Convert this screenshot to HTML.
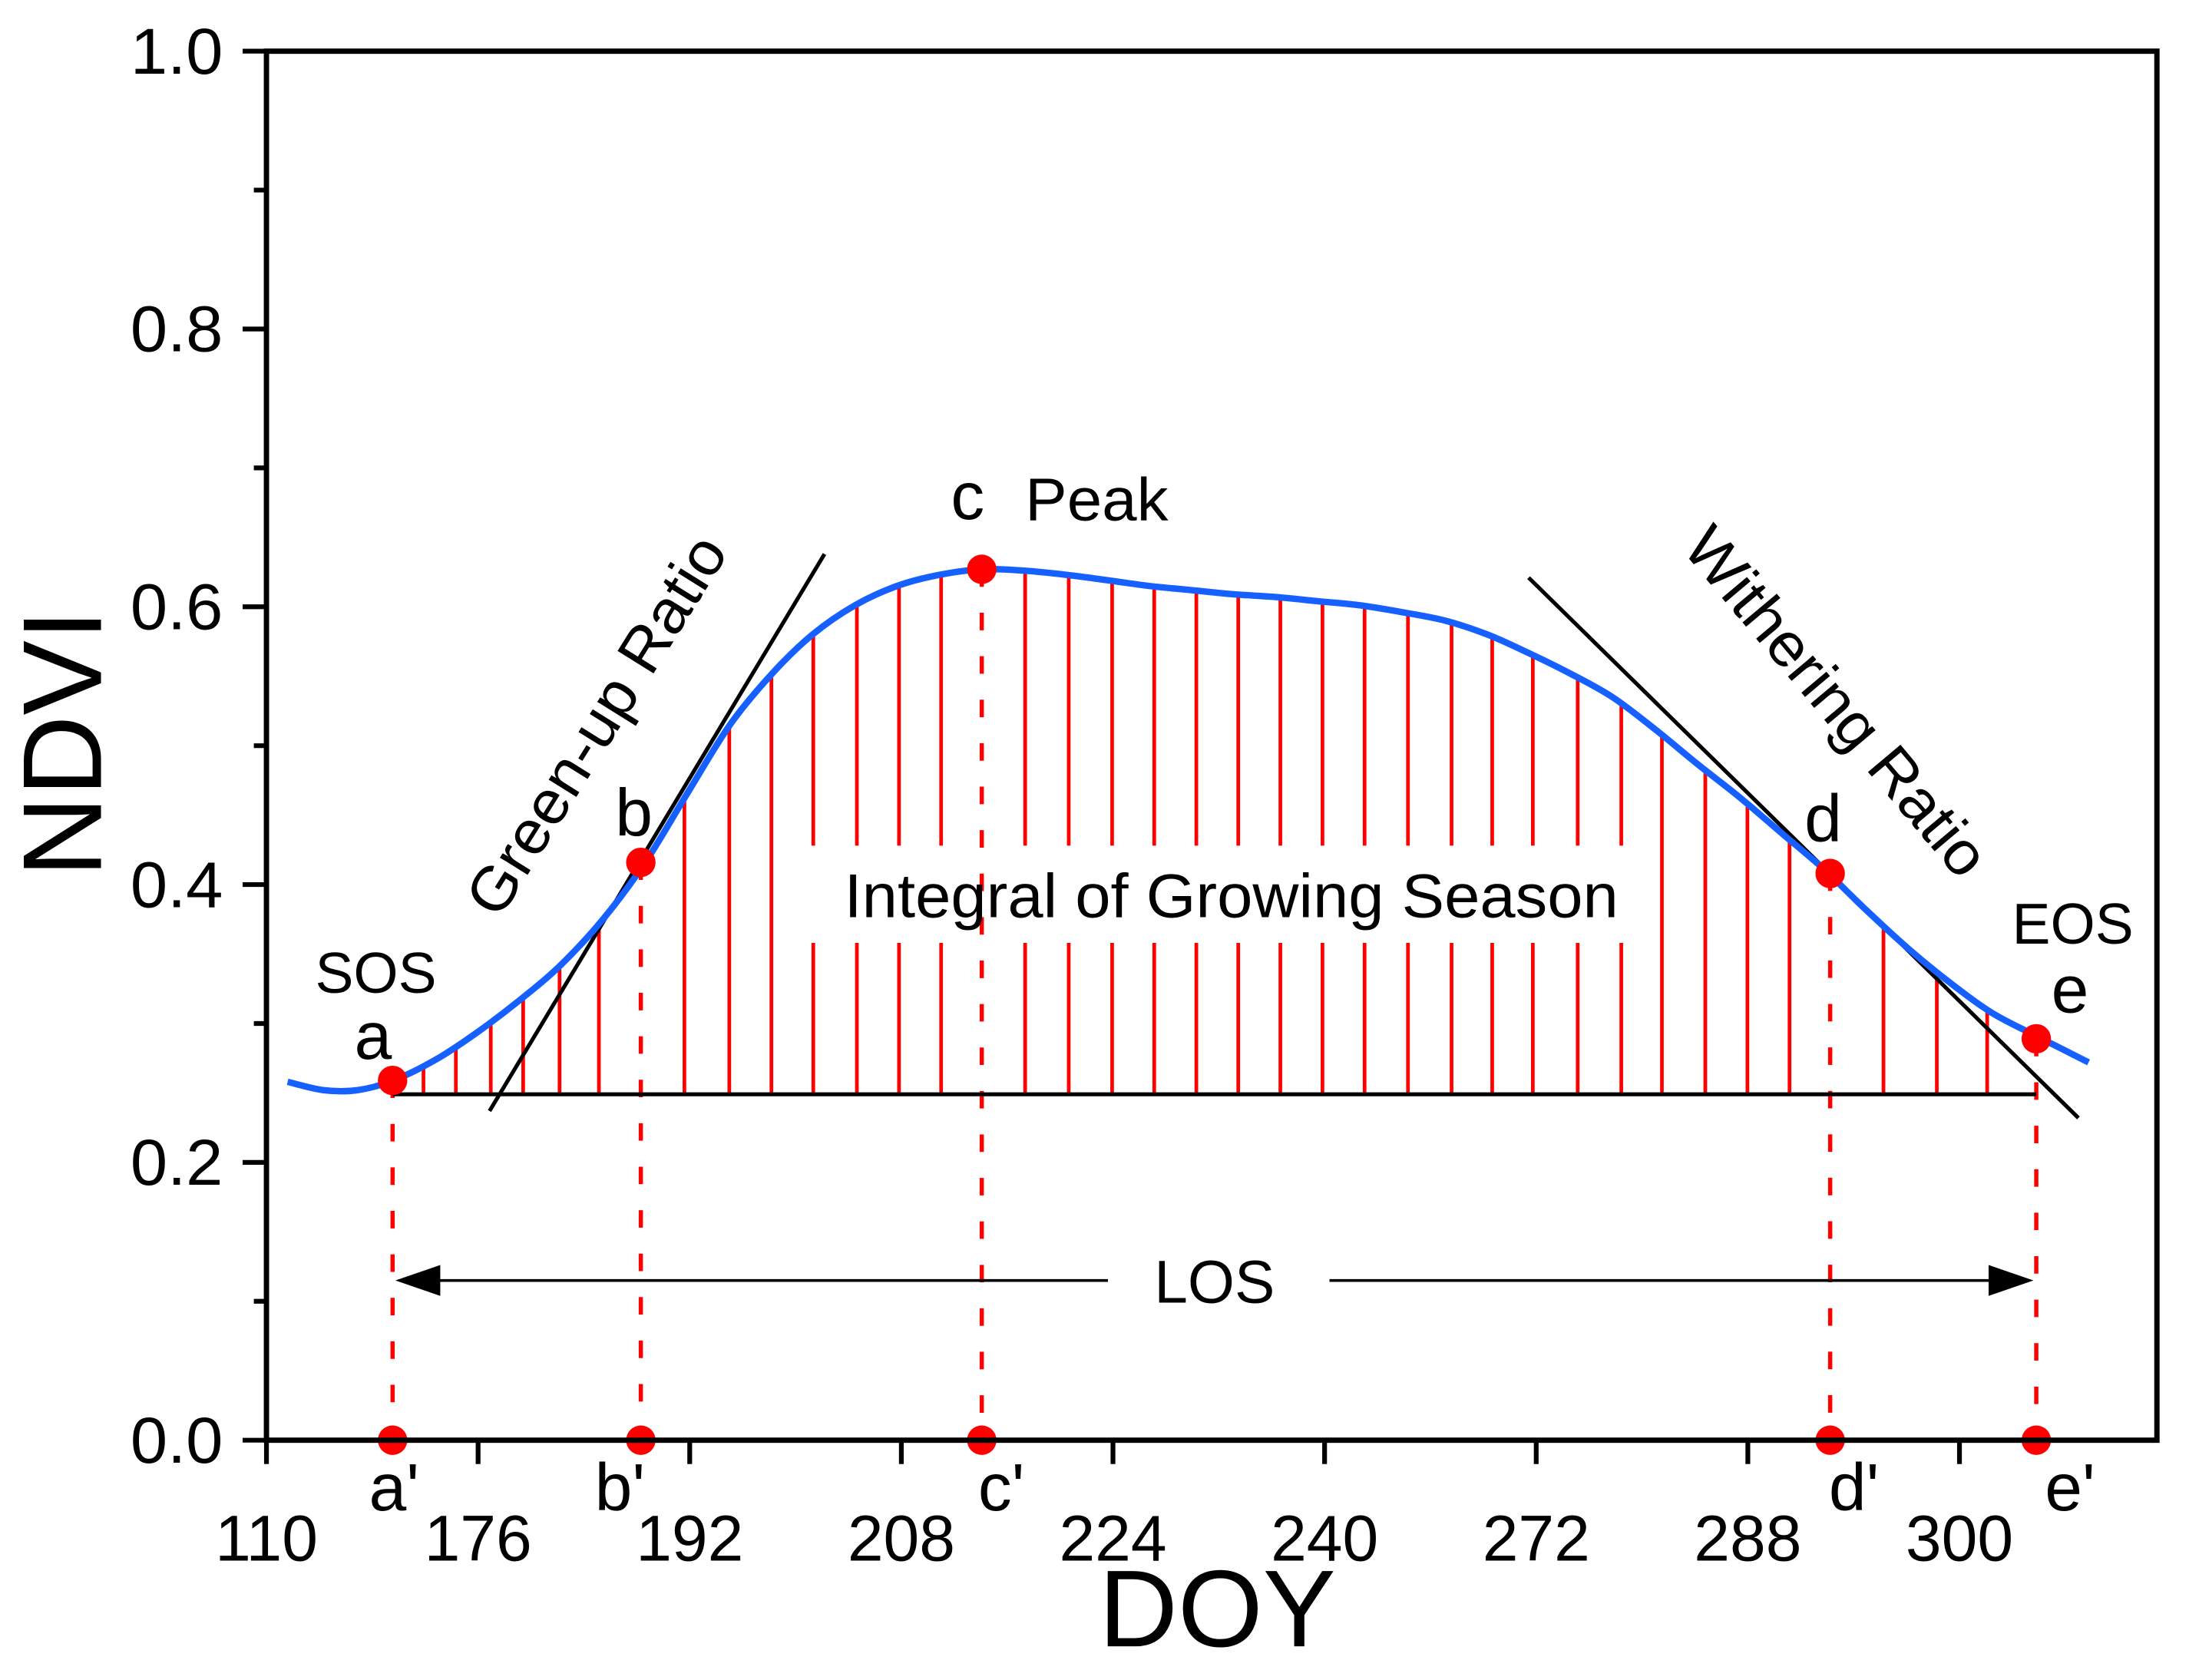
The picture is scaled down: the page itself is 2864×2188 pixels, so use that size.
<!DOCTYPE html>
<html><head><meta charset="utf-8"><style>
html,body{margin:0;padding:0;background:#fff;}
svg{display:block;}
text{font-family:"Liberation Sans Narrow","Liberation Sans",Arial,sans-serif;fill:#000;}
</style></head><body>
<svg id="chart" xmlns="http://www.w3.org/2000/svg" width="2864" height="2188" viewBox="0 0 1568 1198" preserveAspectRatio="none">
<rect x="0" y="0" width="1568" height="1198" fill="#fff"/>
<g id="marks"></g>
<g id="axes"></g>
<g id="labels"></g>
</svg>
<script>
// ---- data (x in tick-index units of the categorical DOY axis) ----
const xTickLabels = ["110","176","192","208","224","240","272","288","300"];
const yTickValues = [0.0,0.2,0.4,0.6,0.8,1.0];
const yTickLabels = ["0.0","0.2","0.4","0.6","0.8","1.0"];
const curveX = [0.10,0.27,0.43,0.60,0.80,0.99,1.19,1.39,1.59,1.79,1.99,2.19,2.39,2.58,2.78,2.98,3.18,3.38,3.58,3.78,3.98,4.17,4.37,4.57,4.77,4.97,5.17,5.37,5.57,5.77,5.96,6.16,6.36,6.56,6.76,6.96,7.16,7.36,7.55,7.75,7.95,8.15,8.35,8.48,8.61];
const curveNDVI = [0.258,0.252,0.252,0.259,0.274,0.293,0.316,0.342,0.375,0.416,0.466,0.515,0.552,0.580,0.601,0.615,0.623,0.627,0.626,0.623,0.619,0.615,0.612,0.609,0.607,0.604,0.601,0.596,0.590,0.580,0.567,0.552,0.535,0.512,0.487,0.463,0.437,0.411,0.383,0.355,0.330,0.308,0.292,0.282,0.272];
const hatchX = [0.742,0.895,1.060,1.213,1.385,1.571,1.975,2.187,2.386,2.584,2.790,2.989,3.188,3.585,3.791,3.996,4.195,4.394,4.592,4.791,4.990,5.189,5.394,5.600,5.792,5.984,6.196,6.402,6.594,6.799,6.998,7.197,7.641,7.893,8.131];
const pointNames = ["a","b","c","d","e"];
const pointX = [0.596,1.769,3.380,7.389,8.363];
const pointNDVI = [0.259,0.416,0.627,0.408,0.289];
const baselineNDVI = 0.249;
const losNDVI = 0.115;
const greenUpLine = [[1.054,0.237],[2.637,0.638]];
const witherLine = [[5.964,0.621],[8.562,0.232]];
const textBandNDVI = [0.358,0.428];
const textBandX = [2.55,6.45];

// ---- axis functions ----
const X0=190, XSTEP=150.9, Y0=1027, YSCALE=990.5;
const X = u => X0 + u*XSTEP;
const Y = v => Y0 - v*YSCALE;
const NS="http://www.w3.org/2000/svg";
function mk(parent, tag, attrs){const e=document.createElementNS(NS,tag);for(const k in attrs)e.setAttribute(k,attrs[k]);parent.appendChild(e);return e;}
const marks=document.getElementById('marks'), axes=document.getElementById('axes'), labels=document.getElementById('labels');
function interp(u){for(let i=0;i<curveX.length-1;i++){if(u>=curveX[i]&&u<=curveX[i+1]){const t=(u-curveX[i])/(curveX[i+1]-curveX[i]);return curveNDVI[i]+t*(curveNDVI[i+1]-curveNDVI[i]);}}return curveNDVI[curveNDVI.length-1];}

// hatch lines
hatchX.forEach((u,i)=>{
  const top=Y(interp(u)), bot=Y(baselineNDVI);
  const inBand = u>textBandX[0] && u<textBandX[1];
  if(inBand){
    let l1=mk(marks,'line',{x1:X(u),x2:X(u),y1:top,y2:Y(textBandNDVI[1]),stroke:'#ff0000','stroke-width':2.6});
    
    
    let l2=mk(marks,'line',{x1:X(u),x2:X(u),y1:Y(textBandNDVI[0]),y2:bot,stroke:'#ff0000','stroke-width':2.6});
    
    
  } else {
    let l=mk(marks,'line',{x1:X(u),x2:X(u),y1:top,y2:bot,stroke:'#ff0000','stroke-width':2.6});
    
    
  }
});

// dashed drop lines
pointX.forEach((u,i)=>{
  let l=mk(marks,'line',{x1:X(u),x2:X(u),y1:Y(pointNDVI[i]),y2:Y(0),stroke:'#ff0000','stroke-width':3,'stroke-dasharray':'12.5 18.5'});
  
  
});

// baseline
let bl=mk(marks,'line',{x1:X(pointX[0]),x2:X(pointX[4]),y1:Y(baselineNDVI),y2:Y(baselineNDVI),stroke:'#000','stroke-width':2.8});



// tangent lines
let g1=mk(marks,'line',{x1:X(greenUpLine[0][0]),y1:Y(greenUpLine[0][1]),x2:X(greenUpLine[1][0]),y2:Y(greenUpLine[1][1]),stroke:'#000','stroke-width':2.8});


let w1=mk(marks,'line',{x1:X(witherLine[0][0]),y1:Y(witherLine[0][1]),x2:X(witherLine[1][0]),y2:Y(witherLine[1][1]),stroke:'#000','stroke-width':2.8});



// blue curve (Catmull-Rom)
(function(){
  const P=curveX.map((u,i)=>[X(u),Y(curveNDVI[i])]);
  let d='M'+P[0][0]+','+P[0][1];
  for(let i=0;i<P.length-1;i++){
    const p0=P[Math.max(0,i-1)],p1=P[i],p2=P[i+1],p3=P[Math.min(P.length-1,i+2)];
    const c1=[p1[0]+(p2[0]-p0[0])/6,p1[1]+(p2[1]-p0[1])/6];
    const c2=[p2[0]-(p3[0]-p1[0])/6,p2[1]-(p3[1]-p1[1])/6];
    d+=' C'+c1[0]+','+c1[1]+' '+c2[0]+','+c2[1]+' '+p2[0]+','+p2[1];
  }
  let c=mk(marks,'path',{d:d,fill:'none',stroke:'#1560ff','stroke-width':4.6,'stroke-linejoin':'round'});
  
  
})();

// LOS arrow
let la=mk(marks,'line',{x1:X(pointX[0])+30,x2:790,y1:Y(losNDVI),y2:Y(losNDVI),stroke:'#000','stroke-width':2});


let lh=mk(marks,'polygon',{points:(X(pointX[0])+2)+','+Y(losNDVI)+' '+(X(pointX[0])+34)+','+(Y(losNDVI)-11)+' '+(X(pointX[0])+34)+','+(Y(losNDVI)+11),fill:'#000'});


let ra=mk(marks,'line',{x1:948,x2:X(pointX[4])-30,y1:Y(losNDVI),y2:Y(losNDVI),stroke:'#000','stroke-width':2});


let rh=mk(marks,'polygon',{points:(X(pointX[4])-2)+','+Y(losNDVI)+' '+(X(pointX[4])-34)+','+(Y(losNDVI)-11)+' '+(X(pointX[4])-34)+','+(Y(losNDVI)+11),fill:'#000'});



// axes frame
let fr=mk(axes,'rect',{x:X0,y:Y(1),width:1538-X0,height:Y0-Y(1),fill:'none',stroke:'#000','stroke-width':3.8});


// y ticks
for(let k=0;k<=10;k++){
  const v=k/10, major=(k%2===0);
  let t=mk(axes,'line',{x1:X0-(major?17:9),x2:X0,y1:Y(v),y2:Y(v),stroke:'#000','stroke-width':3.4});
  
  
}
yTickValues.forEach((v,i)=>{
  let t=mk(axes,'text',{x:159,y:Y(v)+16,'text-anchor':'end','font-size':46,textLength:66,lengthAdjust:'spacingAndGlyphs'});
  t.textContent=yTickLabels[i];
  
  
});
// x ticks
xTickLabels.forEach((s,i)=>{
  let t=mk(axes,'line',{x1:X(i),x2:X(i),y1:Y0,y2:Y0+17,stroke:'#000','stroke-width':3.4});
  
  
  let l=mk(axes,'text',{x:X(i),y:1113,'text-anchor':'middle','font-size':46});
  l.textContent=s;
  
  
});

// dots
pointX.forEach((u,i)=>{
  let d1=mk(marks,'circle',{cx:X(u),cy:Y(pointNDVI[i]),r:10.5,fill:'#ff0000'});
  
  
  let d2=mk(marks,'circle',{cx:X(u),cy:Y(0),r:10.5,fill:'#ff0000'});
  
  
});
</script>
<svg style="position:absolute;left:0;top:0" width="2864" height="2188" viewBox="0 0 1568 1198" preserveAspectRatio="none">
<g font-family="Liberation Sans Narrow, Liberation Sans, Arial, sans-serif">
<text x="0" y="0" transform="translate(72,530) rotate(-90)" text-anchor="middle" font-size="80">NDVI</text>
<text x="868" y="1174" text-anchor="middle" font-size="78">DOY</text>
<text x="268" y="708" text-anchor="middle" font-size="41">SOS</text>
<text x="1478" y="673" text-anchor="middle" font-size="41">EOS</text>
<text x="266" y="755" text-anchor="middle" font-size="48">a</text>
<text x="452" y="596" text-anchor="middle" font-size="48">b</text>
<text x="690" y="370" text-anchor="middle" font-size="48">c</text>
<text x="731" y="371" font-size="43" textLength="102" lengthAdjust="spacingAndGlyphs">Peak</text>
<text x="1300" y="600" text-anchor="middle" font-size="48">d</text>
<text x="1476" y="722" text-anchor="middle" font-size="48">e</text>
<text x="602" y="654" font-size="44" textLength="552" lengthAdjust="spacingAndGlyphs">Integral of Growing Season</text>
<text x="866" y="929" text-anchor="middle" font-size="43">LOS</text>
<text x="0" y="0" transform="translate(438,525) rotate(-58)" text-anchor="middle" font-size="44" textLength="310" lengthAdjust="spacingAndGlyphs">Green-up Ratio</text>
<text x="0" y="0" transform="translate(1298,510) rotate(50)" text-anchor="middle" font-size="44" textLength="310" lengthAdjust="spacingAndGlyphs">Withering Ratio</text>
<text x="281" y="1077" text-anchor="middle" font-size="48">a'</text>
<text x="442" y="1077" text-anchor="middle" font-size="48">b'</text>
<text x="714" y="1077" text-anchor="middle" font-size="48">c'</text>
<text x="1322" y="1077" text-anchor="middle" font-size="48">d'</text>
<text x="1476" y="1077" text-anchor="middle" font-size="48">e'</text>
</g>
</svg>
</body></html>
